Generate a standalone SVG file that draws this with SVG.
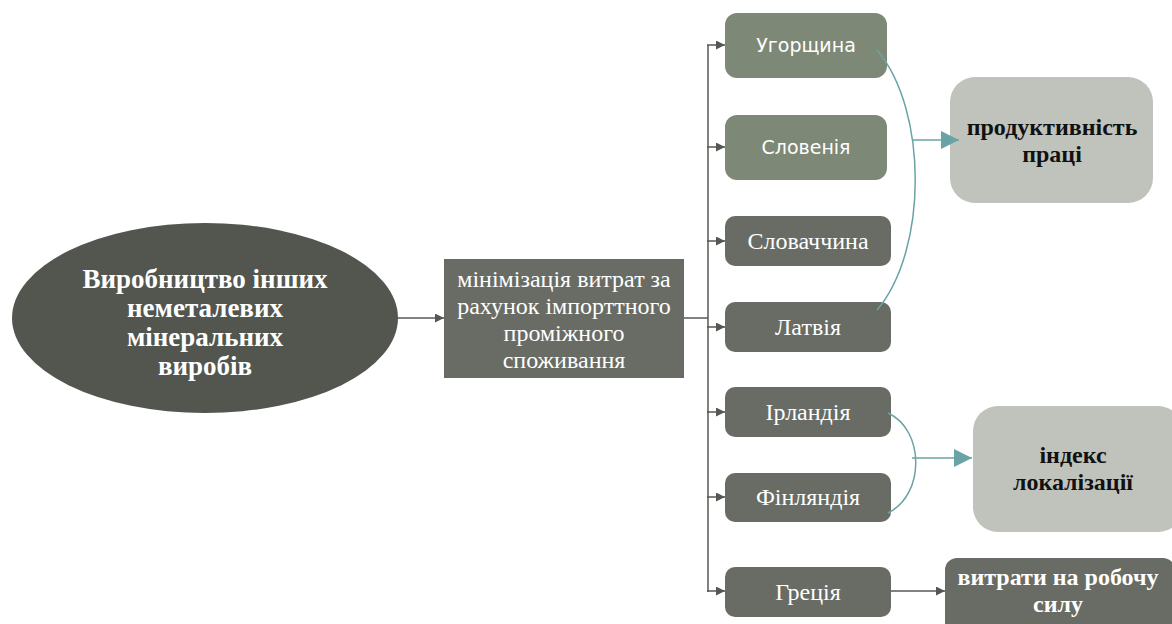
<svg xmlns="http://www.w3.org/2000/svg" width="1172" height="624" viewBox="0 0 1172 624">
<style>
.dark{fill:#686c65}
.green{fill:#7e8877}
.light{fill:#bfc3bb}
.ser{font-family:"Liberation Serif","Times New Roman",serif;fill:#ffffff;text-anchor:middle}
.sans{font-family:"DejaVu Sans",Verdana,sans-serif;fill:#ffffff;text-anchor:middle;font-size:19px}
.b{font-weight:bold}
.blk{fill:#111111}
.c{fill:none;stroke:#555852;stroke-width:1.5}
.t{fill:none;stroke:#6aa3a6;stroke-width:1.5}
</style>
<defs>
<marker id="ah" viewBox="0 0 10 10" refX="10" refY="5" markerWidth="10" markerHeight="9" markerUnits="userSpaceOnUse" orient="auto"><path d="M0,0L10,5L0,10z" fill="#555852"/></marker>
<marker id="th" viewBox="0 0 10 10" refX="10" refY="5" markerWidth="22" markerHeight="18" markerUnits="userSpaceOnUse" orient="auto"><path d="M0,0L10,5L0,10z" fill="#6aa3a6"/></marker>
</defs>
<g id="n-main">
<ellipse cx="205" cy="318" rx="193" ry="95" fill="#52564f"/>
<text class="ser b" font-size="27"><tspan x="205" y="288">Виробництво інших</tspan><tspan x="205" y="317">неметалевих</tspan><tspan x="205" y="346">мінеральних</tspan><tspan x="205" y="375">виробів</tspan></text>
</g>
<g id="n-min">
<rect x="444" y="259" width="240" height="119" class="dark"/>
<text class="ser" font-size="24"><tspan x="564" y="287">мінімізація витрат за</tspan><tspan x="564" y="314">рахунок імпорттного</tspan><tspan x="564" y="341">проміжного</tspan><tspan x="564" y="368">споживання</tspan></text>
</g>
<g id="n-hu"><rect x="725" y="13" width="162" height="65" rx="12" class="green"/><text class="sans" x="806" y="52">Угорщина</text></g>
<g id="n-si"><rect x="725" y="115" width="162" height="65" rx="12" class="green"/><text class="sans" x="806" y="154">Словенія</text></g>
<g id="n-sk"><rect x="725" y="216" width="166" height="50" rx="10" class="dark"/><text class="ser" font-size="24" x="808" y="249">Словаччина</text></g>
<g id="n-lv"><rect x="725" y="302" width="166" height="50" rx="10" class="dark"/><text class="ser" font-size="24" x="808" y="335">Латвія</text></g>
<g id="n-ie"><rect x="725" y="387" width="166" height="50" rx="10" class="dark"/><text class="ser" font-size="24" x="808" y="420">Ірландія</text></g>
<g id="n-fi"><rect x="725" y="473" width="166" height="49" rx="10" class="dark"/><text class="ser" font-size="24" x="808" y="505">Фінляндія</text></g>
<g id="n-gr"><rect x="725" y="567" width="166" height="50" rx="10" class="dark"/><text class="ser" font-size="24" x="808" y="600">Греція</text></g>
<g id="n-prod"><rect x="950" y="77" width="203" height="126" rx="25" class="light"/><text class="ser b blk" font-size="24"><tspan x="1052" y="135">продуктивність</tspan><tspan x="1052" y="162">праці</tspan></text></g>
<g id="n-idx"><rect x="973" y="406" width="210" height="126" rx="25" class="light"/><text class="ser b blk" font-size="24"><tspan x="1073" y="463">індекс</tspan><tspan x="1073" y="490">локалізації</tspan></text></g>
<g id="n-lab"><rect x="945" y="558" width="230" height="80" rx="12" class="dark"/><text class="ser b" font-size="24"><tspan x="1058" y="585">витрати на робочу</tspan><tspan x="1058" y="612">силу</tspan></text></g>
<g id="connectors">
<line x1="397" y1="318" x2="444" y2="318" class="c" marker-end="url(#ah)"/>
<line x1="684" y1="318" x2="708" y2="318" class="c"/>
<line x1="708" y1="45" x2="708" y2="592" class="c"/>
<line x1="707" y1="45" x2="725" y2="45" class="c" marker-end="url(#ah)"/>
<line x1="707" y1="147" x2="725" y2="147" class="c" marker-end="url(#ah)"/>
<line x1="707" y1="241" x2="725" y2="241" class="c" marker-end="url(#ah)"/>
<line x1="707" y1="327" x2="725" y2="327" class="c" marker-end="url(#ah)"/>
<line x1="707" y1="412" x2="725" y2="412" class="c" marker-end="url(#ah)"/>
<line x1="707" y1="497" x2="725" y2="497" class="c" marker-end="url(#ah)"/>
<line x1="707" y1="591" x2="725" y2="591" class="c" marker-end="url(#ah)"/>
<line x1="891" y1="591" x2="945" y2="591" class="c" marker-end="url(#ah)"/>
<path d="M877,50 C928,110 928,250 877,310" class="t"/>
<line x1="912" y1="140" x2="959" y2="140" class="t" marker-end="url(#th)"/>
<path d="M888,413 C925,430 925,495 888,513" class="t"/>
<line x1="912" y1="458" x2="972" y2="458" class="t" marker-end="url(#th)"/>
</g>
</svg>
